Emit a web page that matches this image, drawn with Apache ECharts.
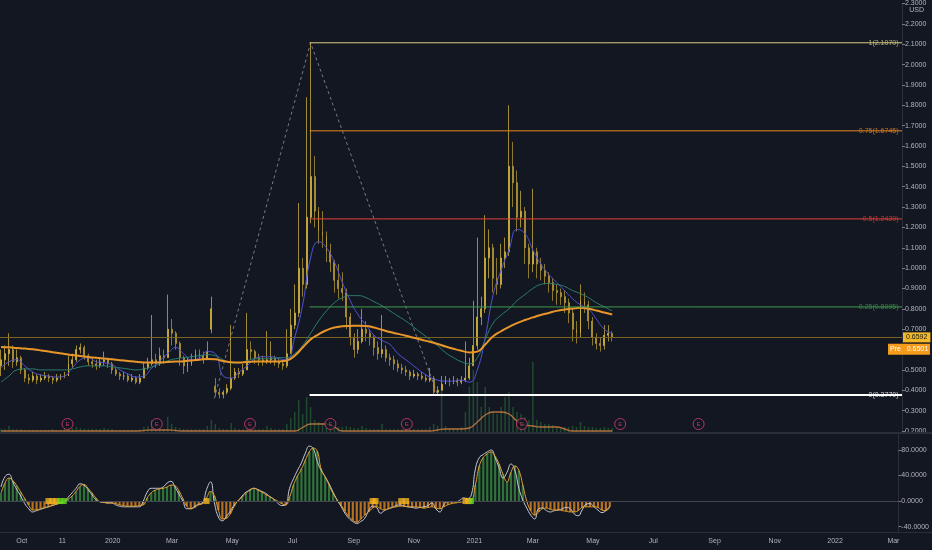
<!DOCTYPE html>
<html><head><meta charset="utf-8">
<script src="https://cdn.jsdelivr.net/npm/echarts@6/dist/echarts.min.js"></script>
<style>html,body{margin:0;padding:0;background:#131722;}#c{width:932px;height:550px;}</style>
</head><body><div id="c"></div>
<script>
// ---------- DATA ----------
const candleStart = '2019-09-10';
const candleStepDays = 4;
const opens = [0.52,0.55,0.58,0.60,0.54,0.56,0.50,0.46,0.45,0.47,0.45,0.46,0.47,0.46,0.45,0.46,0.47,0.47,0.53,0.55,
0.60,0.61,0.57,0.54,0.53,0.52,0.54,0.55,0.53,0.50,0.48,0.47,0.47,0.45,0.46,0.44,0.46,0.51,0.53,0.55,
0.53,0.57,0.56,0.70,0.68,0.63,0.56,0.52,0.53,0.55,0.58,0.57,0.55,0.70,0.42,0.39,0.38,0.39,0.41,0.46,
0.49,0.48,0.50,0.60,0.59,0.56,0.55,0.54,0.55,0.56,0.54,0.53,0.52,0.58,0.72,0.78,1.00,0.92,1.25,1.45,
1.28,1.18,1.16,1.08,1.03,0.94,0.90,0.88,0.76,0.66,0.60,0.64,0.70,0.68,0.66,0.61,0.58,0.60,0.56,0.55,
0.53,0.51,0.50,0.49,0.47,0.48,0.47,0.46,0.45,0.46,0.39,0.40,0.43,0.45,0.44,0.45,0.44,0.45,0.46,0.52,
0.62,0.76,0.80,1.05,1.10,0.95,0.92,1.05,1.08,1.50,1.42,1.25,1.28,1.10,1.02,1.08,1.02,0.99,0.96,0.93,
0.89,0.88,0.86,0.83,0.78,0.70,0.68,0.84,0.82,0.74,0.66,0.63,0.62,0.67,0.68];
const closes = [0.55,0.58,0.60,0.54,0.56,0.50,0.46,0.45,0.47,0.45,0.46,0.47,0.46,0.45,0.46,0.47,0.47,0.53,0.55,0.60,
0.61,0.57,0.54,0.53,0.52,0.54,0.55,0.53,0.50,0.48,0.47,0.47,0.45,0.46,0.44,0.46,0.51,0.53,0.55,0.53,
0.57,0.56,0.70,0.68,0.63,0.56,0.52,0.53,0.55,0.58,0.57,0.55,0.59,0.80,0.39,0.38,0.39,0.41,0.46,0.49,
0.48,0.50,0.60,0.59,0.56,0.55,0.54,0.55,0.56,0.54,0.53,0.52,0.58,0.72,0.78,1.00,0.92,1.25,1.45,1.28,
1.18,1.16,1.08,1.03,0.94,0.90,0.88,0.76,0.66,0.60,0.64,0.70,0.68,0.66,0.61,0.58,0.60,0.56,0.55,0.53,
0.51,0.50,0.49,0.47,0.48,0.47,0.46,0.45,0.46,0.39,0.40,0.43,0.45,0.44,0.45,0.44,0.45,0.46,0.52,0.62,
0.76,0.80,1.05,1.10,0.95,0.92,1.05,1.08,1.50,1.42,1.25,1.28,1.10,1.02,1.08,1.02,0.99,0.96,0.93,0.89,
0.88,0.86,0.83,0.78,0.70,0.68,0.84,0.82,0.74,0.66,0.63,0.62,0.67,0.68,0.659];
const highs = [0.60,0.62,0.68,0.62,0.60,0.57,0.51,0.48,0.49,0.48,0.48,0.49,0.48,0.47,0.48,0.48,0.49,0.57,0.58,0.62,
0.63,0.62,0.58,0.56,0.55,0.56,0.59,0.56,0.54,0.51,0.49,0.49,0.48,0.48,0.47,0.48,0.54,0.56,0.77,0.58,
0.61,0.60,0.87,0.75,0.69,0.64,0.57,0.56,0.58,0.60,0.60,0.59,0.64,0.86,0.46,0.41,0.40,0.43,0.72,0.51,
0.51,0.53,0.78,0.64,0.60,0.58,0.57,0.69,0.64,0.57,0.56,0.55,0.70,0.80,0.92,1.32,1.05,1.84,2.107,1.55,
1.30,1.28,1.18,1.12,1.04,1.02,0.98,0.90,0.78,0.68,0.70,0.80,0.74,0.70,0.67,0.64,0.77,0.62,0.58,0.57,
0.55,0.53,0.52,0.50,0.50,0.49,0.49,0.48,0.51,0.47,0.42,0.47,0.47,0.46,0.47,0.46,0.47,0.64,0.56,0.84,
1.15,0.86,1.26,1.19,1.12,1.05,1.12,1.15,1.80,1.62,1.48,1.38,1.30,1.12,1.39,1.10,1.05,1.02,0.98,0.95,
0.92,0.90,0.89,0.85,0.80,0.74,0.92,0.88,0.84,0.76,0.68,0.66,0.72,0.72,0.69];
const lows = [0.47,0.50,0.52,0.51,0.52,0.48,0.44,0.43,0.44,0.43,0.44,0.45,0.44,0.43,0.44,0.45,0.46,0.47,0.51,0.54,
0.58,0.55,0.52,0.51,0.50,0.51,0.52,0.51,0.48,0.47,0.45,0.45,0.44,0.44,0.43,0.43,0.46,0.50,0.52,0.51,
0.52,0.53,0.56,0.62,0.60,0.52,0.48,0.49,0.52,0.55,0.55,0.53,0.55,0.68,0.37,0.36,0.36,0.38,0.40,0.45,
0.46,0.47,0.50,0.55,0.53,0.52,0.52,0.53,0.53,0.52,0.51,0.50,0.51,0.58,0.70,0.76,0.86,0.90,1.22,1.20,
1.12,1.10,1.03,0.98,0.88,0.85,0.84,0.70,0.62,0.56,0.58,0.63,0.64,0.62,0.57,0.55,0.56,0.54,0.52,0.50,
0.49,0.48,0.47,0.45,0.46,0.45,0.45,0.44,0.44,0.377,0.38,0.40,0.43,0.42,0.43,0.42,0.43,0.44,0.45,0.52,
0.60,0.72,0.78,0.95,0.88,0.87,0.90,1.00,1.06,1.30,1.18,1.20,1.02,0.95,0.98,0.95,0.94,0.92,0.88,0.84,
0.82,0.82,0.78,0.73,0.64,0.63,0.66,0.78,0.70,0.62,0.60,0.59,0.60,0.64,0.64];
const volumes = [3,3,6,3,3,3,2,2,2,2,2,2,2,3,2,2,3,5,4,5,
4,3,3,3,3,3,4,3,3,2,2,2,2,2,2,3,5,6,12,4,
4,3,15,8,5,4,3,3,3,3,3,3,6,12,8,4,3,3,9,4,
3,3,10,5,3,3,3,6,4,3,3,3,8,14,20,32,18,35,25,12,
10,8,7,6,6,5,5,6,5,4,4,6,4,3,3,3,8,3,3,3,
3,3,3,3,3,3,3,3,5,8,6,42,6,4,4,4,5,20,45,62,
50,25,45,25,20,18,25,35,40,25,20,18,15,12,70,12,10,8,8,7,
6,5,5,5,6,5,10,6,5,5,4,4,5,4,4];
// moving averages, one value every 2nd candle
const maFast = [0.51,0.54,0.55,0.52,0.49,0.475,0.47,0.465,0.47,0.51,0.55,0.56,0.54,0.535,0.525,0.50,0.48,0.465,0.47,0.51,
0.545,0.58,0.61,0.58,0.55,0.56,0.59,0.58,0.47,0.46,0.49,0.52,0.555,0.565,0.565,0.555,0.55,0.66,0.82,1.05,
1.13,1.10,1.03,0.93,0.84,0.77,0.72,0.67,0.645,0.625,0.58,0.55,0.52,0.49,0.465,0.45,0.445,0.445,0.45,0.44,
0.50,0.66,0.87,0.99,1.09,1.19,1.17,1.09,1.02,0.97,0.93,0.89,0.85,0.82,0.80,0.75,0.70,0.68];
const maMid = [0.44,0.47,0.50,0.505,0.505,0.50,0.50,0.50,0.50,0.505,0.515,0.52,0.52,0.52,0.515,0.51,0.505,0.50,0.505,0.515,
0.53,0.545,0.555,0.56,0.565,0.57,0.575,0.57,0.55,0.535,0.535,0.545,0.555,0.555,0.555,0.56,0.56,0.58,0.62,0.68,
0.74,0.79,0.83,0.855,0.865,0.865,0.855,0.835,0.815,0.79,0.765,0.74,0.71,0.68,0.65,0.62,0.585,0.56,0.54,0.53,
0.56,0.65,0.73,0.77,0.80,0.84,0.87,0.90,0.92,0.925,0.92,0.91,0.89,0.875,0.855,0.83,0.81,0.79];
const maSlow = [0.613,0.611,0.608,0.605,0.601,0.596,0.590,0.584,0.578,0.573,0.568,0.563,0.560,0.556,0.552,0.548,0.544,0.540,0.537,0.536,
0.537,0.539,0.541,0.543,0.546,0.550,0.554,0.552,0.544,0.538,0.537,0.539,0.541,0.541,0.541,0.542,0.546,0.570,0.610,0.650,
0.675,0.695,0.708,0.714,0.716,0.717,0.716,0.708,0.697,0.686,0.677,0.668,0.658,0.648,0.638,0.627,0.615,0.604,0.594,0.586,
0.590,0.625,0.665,0.690,0.712,0.730,0.745,0.758,0.770,0.780,0.790,0.797,0.802,0.805,0.800,0.792,0.782,0.772];
const volumeMA = [1,1,1,1,1,1,1,1,1,1,1,1,1,1,1,1,1,1,1.5,2,2,2,1.5,1,1,1,1,1,1,1,1,1,1,1,1,1,
1,1,4.5,8,8,8,5,1,
1,1,1,1,1,1,1,1,1,1,1,2,
3,3,3,4,10,17,20,20,18,11,7,6,5,5,5,3,1,
1,1,1,1,1];
// oscillator (lower pane), one value per candle
const wave = [22,38,42,30,18,8,-4,-12,-17,-15,-13,-11,-9,-7,-5,-3,-1,6,13,20,
27,25,18,10,2,-1,-2,-3,-3,-6,-8,-9,-9,-9,-9,-9,0,14,20,20,
20,22,28,31,22,11,0,-12,-12,-8,-5,-3,18,30,-3,-25,-31,-24,-16,-6,
0,8,14,17,20,18,15,12,7,3,-3,-7,-6,20,35,48,60,75,86,82,
62,48,38,27,14,2,-8,-19,-27,-32,-35,-32,-27,-15,-8,-10,-19,-15,-12,-10,
-7,-6,-8,-9,-10,-11,-10,-9,-7,-3,-12,-17,-6,-1,-1,-1,1,5,4,10,
50,68,73,77,80,68,52,36,45,58,48,20,2,-11,-22,-28,-12,-11,-15,-17,
-15,-14,-12,-10,-12,-20,-23,-14,-5,-4,-9,-14,-18,-15,-8];
const signal = [12,28,36,32,24,14,4,-6,-14,-14,-12,-10,-9,-7,-5,-3,-1,3,8,15,
23,26,20,13,5,-1,-2,-3,-3,-4,-6,-7,-8,-8,-8,-7,-6,5,13,17,
19,20,22,25,24,16,4,-8,-12,-10,-6,-4,5,15,8,-14,-28,-27,-20,-8,
1,6,12,18,20,17,14,10,7,3,0,-4,-6,6,25,39,50,64,77,83,
78,50,38,25,12,2,-6,-16,-24,-30,-33,-28,-22,-17,-11,-9,-12,-14,-12,-10,
-9,-8,-8,-9,-9,-9,-10,-11,-10,-9,-11,-12,-9,-6,-4,-3,-2,-1,1,2,
25,55,68,74,77,70,58,42,30,45,55,48,25,0,-15,-22,-17,-12,-11,-13,
-14,-14,-15,-16,-17,-17,-15,-10,-9,-9,-9,-10,-14,-15,-9];
const squeezeOnDates = ['2019-10-28','2019-11-01','2019-11-05','2020-04-05','2020-09-20','2020-09-23','2020-10-19','2020-10-24','2020-12-23','2020-12-26'];
const squeezeFireDates = ['2019-11-09','2019-11-13','2020-12-29'];
const earningsDates = ['2019-11-16','2020-02-14','2020-05-18','2020-08-07','2020-10-23','2021-02-16','2021-05-26','2021-08-13'];
// fibonacci
const fibRatios = ['1','0.75','0.5','0.25','0'];
const fibLevels = [2.1070,1.6745,1.2420,0.8095,0.3770];
const fibColors = ['#d9cf86','#e8841f','#e5403a','#3f9b4a','#ffffff'];
const fibStart = '2020-07-17';
const trendDates = ['2020-04-12','2020-07-18','2020-11-23'];
const trendValues = [0.36,2.107,0.377];
const lastPrice = 0.6592;
const prePrice = 0.6501;
// axes
const axisStart = '2019-09-09', axisEnd = '2022-03-06';
const tickDates = ['2019-10-01','2019-11-11','2020-01-01','2020-03-01','2020-05-01','2020-07-01','2020-09-01','2020-11-01','2021-01-01','2021-03-01','2021-05-01','2021-07-01','2021-09-01','2021-11-01','2022-01-01','2022-03-01'];
const tickLabels = ['Oct','11','2020','Mar','May','Jul','Sep','Nov','2021','Mar','May','Jul','Sep','Nov','2022','Mar'];
const oscTicks = [-40,0,40,80];

// ---------- BUILD ----------
const DAY = 86400000;
const ts = s => Date.parse(s + 'T00:00:00Z');
const t0 = ts(candleStart);
const dates = opens.map((_, i) => t0 + i * candleStepDays * DAY);
const maDates = dates.filter((_, i) => i % 2 === 0);
const xMin = ts(axisStart), xMax = ts(axisEnd);
const tickMap = {};
tickDates.forEach((d, i) => tickMap[ts(d)] = tickLabels[i]);

const FONT = 'Liberation Sans';
const TXT = '#b2b5be';

const candleData = dates.map((d, i) => [d, opens[i], closes[i], lows[i], highs[i]]);
const pair = (ds, vs) => ds.map((d, i) => [d, vs[i]]);

const series = [];
// volume
series.push({type:'bar', xAxisIndex:1, yAxisIndex:1, data: pair(dates, volumes), barWidth:1.5,
  itemStyle:{color:'rgba(46,125,60,0.5)'}, z:1, silent:true});
series.push({type:'line', xAxisIndex:1, yAxisIndex:1, data: pair(maDates, volumeMA), smooth:true, showSymbol:false,
  lineStyle:{color:'#b0703e', width:1.3}, z:2});
series.push({type:'scatter', xAxisIndex:1, yAxisIndex:1, data: earningsDates.map(d => [ts(d), 8]),
  symbol:'circle', symbolSize:11, itemStyle:{color:'#131722', borderColor:'#d6406e', borderWidth:1},
  label:{show:true, position:'inside', formatter:'E', color:'#d6406e', fontSize:6, fontFamily:FONT}, z:5});
// candles
series.push({type:'candlestick', xAxisIndex:0, yAxisIndex:0, data: candleData, barWidth:1.4,
  itemStyle:{color:'#e9c94a', color0:'#a98c2c', borderColor:'#dcbc40', borderColor0:'#c3a236', borderWidth:0.7},
  z:4,
  markLine:{silent:true, symbol:['none','none'], animation:false,
    data:[{yAxis:lastPrice}],
    lineStyle:{color:'#7d6322', width:1, type:'solid'},
    label:{show:true, position:'end', distance:1, formatter:lastPrice.toFixed(4), color:'#131722',
      backgroundColor:'#f2b826', padding:[2,3,1,3], fontSize:7, fontFamily:FONT}},
  markPoint:{silent:true, animation:false, data:[{coord:[xMax, prePrice], symbol:'rect', symbolSize:[42,11], symbolOffset:[7,10],
    itemStyle:{color:'#f59b1c'}, label:{show:true, position:'inside', formatter:'Pre   ' + prePrice.toFixed(4), color:'#ffffff', fontSize:7, fontFamily:FONT}}]}
});
// moving averages
series.push({type:'line', xAxisIndex:0, yAxisIndex:0, data: pair(maDates, maFast), smooth:true, showSymbol:false,
  lineStyle:{color:'#5153d6', width:1}, z:5});
series.push({type:'line', xAxisIndex:0, yAxisIndex:0, data: pair(maDates, maMid), smooth:true, showSymbol:false,
  lineStyle:{color:'#2b7f6e', width:1}, z:5});
series.push({type:'line', xAxisIndex:0, yAxisIndex:0, data: pair(maDates, maSlow), smooth:true, showSymbol:false,
  lineStyle:{color:'#e8962a', width:2}, z:5});
// fib levels
fibLevels.forEach((lv, i) => {
  series.push({type:'line', xAxisIndex:0, yAxisIndex:0, data:[[ts(fibStart), lv],[xMax, lv]], showSymbol:false,
    lineStyle:{color:fibColors[i], width: i === 4 ? 2 : 1}, z:6, silent:true});
});
series.push({type:'scatter', xAxisIndex:0, yAxisIndex:0, symbolSize:1, itemStyle:{color:'rgba(0,0,0,0)'}, z:7,
  data: fibLevels.map((lv, i) => ({value:[xMax, lv], label:{show:true, position:'left', distance:3,
    formatter: fibRatios[i] + '(' + lv.toFixed(4) + ')', color:fibColors[i], fontSize:7, fontFamily:FONT}}))});
// trend dashed line
series.push({type:'line', xAxisIndex:0, yAxisIndex:0, data: pair(trendDates.map(ts), trendValues), showSymbol:false,
  lineStyle:{color:'#787b86', width:1, type:[3,3]}, z:3});
// oscillator
series.push({type:'bar', xAxisIndex:2, yAxisIndex:2, data: signal.map((v, i) => ({value:[dates[i], v],
  itemStyle:{color: v >= 0 ? 'rgba(60,145,66,0.75)' : 'rgba(222,134,30,0.8)'}})), barWidth:2.2, z:1,
  markLine:{silent:true, symbol:['none','none'], data:[{yAxis:0}], lineStyle:{color:'#434651', width:1, type:'solid'}, label:{show:false}}});
series.push({type:'line', xAxisIndex:2, yAxisIndex:2, data: pair(dates, wave), smooth:true, showSymbol:false,
  lineStyle:{color:'#c5cad6', width:1}, z:3});
series.push({type:'line', xAxisIndex:2, yAxisIndex:2, data: pair(dates, signal), smooth:true, showSymbol:false,
  lineStyle:{color:'#e6a22e', width:1}, z:4});
series.push({type:'scatter', xAxisIndex:2, yAxisIndex:2, data: squeezeOnDates.map(d => [ts(d), 0]),
  symbol:'rect', symbolSize:[6,6], itemStyle:{color:'#f5b41e'}, z:6});
series.push({type:'scatter', xAxisIndex:2, yAxisIndex:2, data: squeezeFireDates.map(d => [ts(d), 0]),
  symbol:'rect', symbolSize:[5,6], itemStyle:{color:'#66e01f'}, z:7});

const hiddenX = idx => ({type:'value', gridIndex:idx, min:xMin, max:xMax, show:false, scale:true});
const option = {
  backgroundColor:'#131722',
  animation:false,
  textStyle:{fontFamily:FONT},
  grid:[
    {left:0, right:30, top:0, height:431},
    {left:0, right:30, top:362, height:70},
    {left:0, right:30, top:434, height:99}
  ],
  xAxis:[hiddenX(0), hiddenX(1), {
    type:'value', gridIndex:2, min:xMin, max:xMax, scale:true,
    axisLine:{show:true, lineStyle:{color:'#2a2e39', width:1}},
    axisTick:{show:false}, splitLine:{show:false},
    axisLabel:{customValues: tickDates.map(ts), formatter: v => tickMap[v] || '', color:TXT, fontSize:7, margin:5,
      fontFamily:FONT, hideOverlap:false, showMinLabel:true, showMaxLabel:true}
  }],
  yAxis:[
    {type:'value', gridIndex:0, position:'right', min:0.2, max:2.3, interval:0.1,
     axisLine:{show:true, lineStyle:{color:'#2a2e39'}}, axisTick:{show:true, length:3, lineStyle:{color:'#787b86'}},
     splitLine:{show:false},
     axisLabel:{formatter: v => v.toFixed(4), color:TXT, fontSize:7, margin:3, fontFamily:FONT}},
    {type:'value', gridIndex:1, min:0, max:70, show:false},
    {type:'value', gridIndex:2, position:'right', min:-50, max:105,
     axisLine:{show:true, lineStyle:{color:'#2a2e39'}},
     axisTick:{show:true, length:3, customValues:oscTicks, lineStyle:{color:'#787b86'}},
     splitLine:{show:false},
     axisLabel:{customValues:oscTicks, formatter: v => v.toFixed(4), color:TXT, fontSize:7, margin:3, fontFamily:FONT}}
  ],
  graphic:[
    {type:'rect', shape:{x:0, y:432, width:932, height:2}, style:{fill:'#2a2e39'}, z:100},
    {type:'rect', shape:{x:0, y:532, width:932, height:1}, style:{fill:'#2a2e39'}, z:100},
    {type:'text', right:8, top:7, style:{text:'USD', fill:TXT, fontSize:7, fontFamily:FONT}, z:100}
  ],
  series: series
};
const chart = echarts.init(document.getElementById('c'));
chart.setOption(option);
</script>
</body></html>
